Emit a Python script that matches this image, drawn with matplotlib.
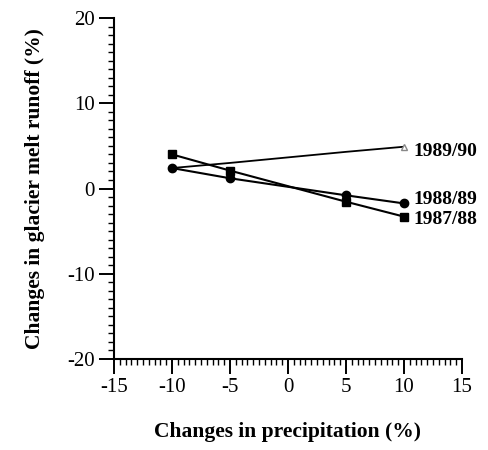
import matplotlib
matplotlib.use("Agg")
import matplotlib.pyplot as plt
from matplotlib.ticker import MultipleLocator

precip = [-10, -5, 5, 10]
runoff_8788 = [4.0, 2.1, -1.55, -3.3]
runoff_8889 = [2.4, 1.2, -0.8, -1.75]
runoff_8990 = [2.4, 3.0, 4.3, 4.9]
series_labels = ["1987/88", "1988/89", "1989/90"]
label_y = [-3.6, -1.3, 4.3]
xticks = [-15, -10, -5, 0, 5, 10, 15]
yticks = [-20, -10, 0, 10, 20]

plt.rcParams['font.family'] = ['Liberation Serif', 'DejaVu Serif']

fig = plt.figure(figsize=(4.88, 4.5), dpi=100)
ax = fig.add_axes([114/488, 1-359/450, (462-114)/488, (359-18)/450])

ax.plot(precip, runoff_8990, color='black', lw=1.3, marker='^', markersize=4,
        mfc='white', mec='#888888', markevery=[0, 3])
ax.plot(precip, runoff_8889, color='black', lw=1.5, marker='o', markersize=6,
        mfc='black', mec='black')
ax.plot(precip, runoff_8788, color='black', lw=1.5, marker='s', markersize=6,
        mfc='black', mec='black')

for lab, y in zip(series_labels, label_y):
    ax.text(10.8, y, lab, fontsize=14, fontweight='bold', va='center', ha='left')

ax.set_xlim(-15, 15)
ax.set_ylim(-20, 20)
ax.set_xticks(xticks)
ax.set_yticks(yticks)
ax.set_xticklabels([str(v) for v in xticks])
ax.set_yticklabels([str(v) for v in yticks])
ax.xaxis.set_minor_locator(MultipleLocator(0.5))
ax.yaxis.set_minor_locator(MultipleLocator(1))
ax.tick_params(axis='both', which='major', direction='out', length=11, width=1.4,
               labelsize=15, pad=3)
ax.tick_params(axis='both', which='minor', direction='out', length=4, width=1.0)

for s in ['top', 'right']:
    ax.spines[s].set_visible(False)
for s in ['left', 'bottom']:
    ax.spines[s].set_linewidth(1.5)

ax.set_xlabel("Changes in precipitation (%)", fontsize=15.5, fontweight='bold', labelpad=18)
ax.set_ylabel("Changes in glacier melt runoff (%)", fontsize=15.5, fontweight='bold', labelpad=16)

fig.savefig("out.png", dpi=100)
